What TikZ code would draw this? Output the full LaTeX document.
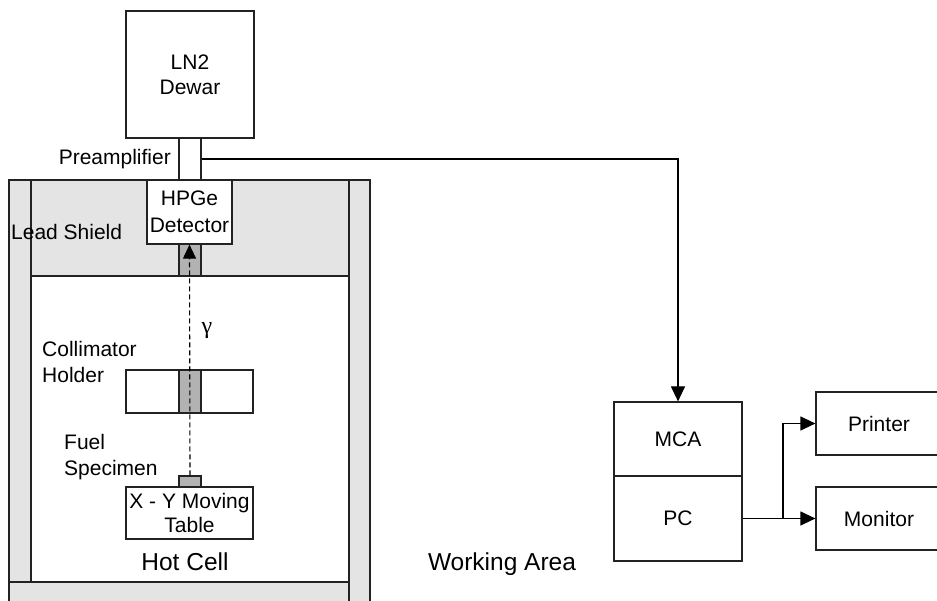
\documentclass[tikz,border=0pt]{standalone}
\usepackage{fontspec}
\setmainfont{Liberation Sans}
\newfontfamily\gamfont{Liberation Serif}
\usetikzlibrary{arrows.meta}
\definecolor{wallgrey}{HTML}{E4E4E4}
\definecolor{midgrey}{HTML}{B2B2B2}
\definecolor{edge}{HTML}{222222}
\tikzset{
  txt/.style={font=\fontsize{21}{26}\selectfont, align=center, inner sep=0pt},
  bigtxt/.style={font=\fontsize{24.5}{29}\selectfont, inner sep=0pt},
  boxn/.style={draw=edge, line width=1.2pt, fill=white, rectangle, inner sep=0pt,
    font=\fontsize{21}{26}\selectfont, align=center},
  greyn/.style={draw=edge, line width=1.2pt, fill=midgrey, rectangle, inner sep=0pt},
  wire/.style={line width=1.2pt, draw=black, -{Triangle[length=15pt,width=14pt]}},
  ray/.style={line width=1.1pt, dash pattern=on 5pt off 3pt, -{Triangle[length=14pt,width=13pt]}},
  wall/.style={draw=edge, line width=1.2pt}
}
\begin{document}
\begin{tikzpicture}[x=1pt,y=-1pt]
\useasboundingbox (0,0) rectangle (937,601);
\fill[white] (0,0) rectangle (937,601);
% hot cell walls and shield
\fill[wallgrey] (9,180) rectangle (370,620);
\fill[white] (31,276) rectangle (349,582);
\draw[wall] (9,620) -- (9,180) -- (370,180) -- (370,620);
\draw[wall] (31,180) -- (31,582);
\draw[wall] (349,180) -- (349,620);
\draw[wall] (31,276) -- (349,276);
\draw[wall] (9,582) -- (349,582);
% Dewar, preamp, detector
\node[boxn, minimum width=128pt, minimum height=127pt] (dewar) at (190,74.5) {LN2\\[-1pt]Dewar};
\node[boxn, minimum width=22pt, minimum height=42pt] (preamp) at (190,159) {};
\node[boxn, minimum width=85pt, minimum height=64pt] (det) at (189.5,212) {HPGe\\[1pt]Detector};
\node[greyn, minimum width=22pt, minimum height=32pt] (shcol) at (190,260) {};
% collimator holder
\node[boxn, minimum width=127pt, minimum height=43pt] (colh) at (189.5,391.5) {};
\node[greyn, minimum width=22pt, minimum height=43pt] (colstrip) at (190,391.5) {};
% specimen and table
\node[greyn, minimum width=22pt, minimum height=11pt] (spec) at (190,481.5) {};
\node[boxn, minimum width=127pt, minimum height=52pt] (table) at (189.5,513) {X - Y Moving\\[-2pt]Table};
% ray
\draw[ray] (spec.north) -- (det.south);
% labels
\node[txt, anchor=east] (lpre) at (171,159) {Preamplifier};
\node[txt, anchor=west] (llead) at (11,232) {Lead Shield};
\node[txt, font=\gamfont\fontsize{24}{26}\selectfont] (lgam) at (207,331) {γ};
\node[txt, anchor=west, align=left] (lcol) at (42,362) {Collimator\\Holder};
\node[txt, anchor=west, align=left] (lfuel) at (64,457) {Fuel\\Specimen};
\node[bigtxt] (lhot) at (185,562) {Hot Cell};
\node[bigtxt] (lwork) at (502,564) {Working Area};
% right side
\node[boxn, minimum width=128pt, minimum height=74pt] (mca) at (678,439) {MCA};
\node[boxn, minimum width=128pt, minimum height=85pt] (pc) at (678,518.5) {PC};
\node[boxn, minimum width=126pt, minimum height=63pt] (printer) at (879,423.5) {Printer};
\node[boxn, minimum width=126pt, minimum height=63pt] (monitor) at (879,518.5) {Monitor};
\coordinate (split) at (783,518.5);
% connectors
\draw[wire] (preamp.east) -| (mca.north);
\draw[wire] (pc.east) -- (monitor.west);
\draw[wire] (split) |- (printer.west);
\end{tikzpicture}
\end{document}
